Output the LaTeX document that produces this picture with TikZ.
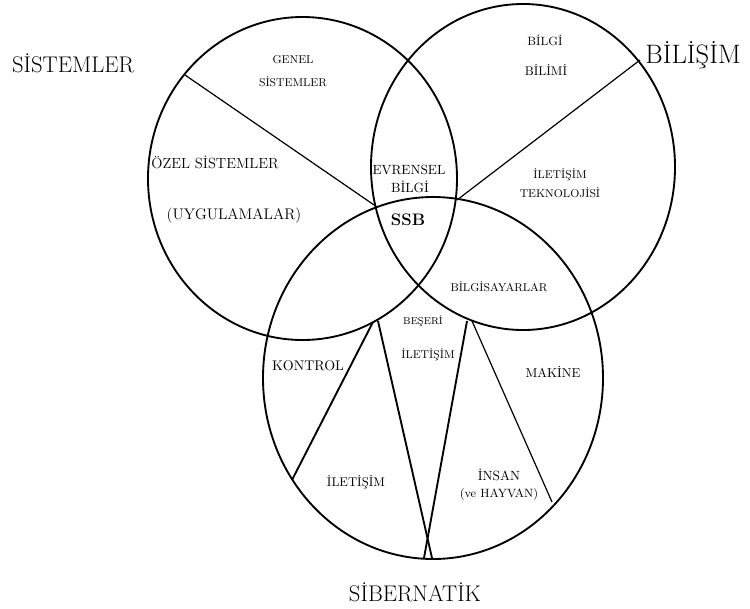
\documentclass[tikz,border=0pt]{standalone}
\usepackage{fontspec}
\usepackage{tikz}
\usetikzlibrary{positioning,calc}
\tikzset{ring/.style={line width=1.4pt}}

\begin{document}
\begin{tikzpicture}[x=0.75pt, y=-0.75pt,
        big/.style={font=\fontsize{17}{20}\selectfont},
        mid/.style={font=\fontsize{10.5}{12}\selectfont},
        tiny/.style={font=\fontsize{8.5}{10}\selectfont},
        cut/.style={line width=0.9pt},
        thick cut/.style={line width=1.4pt}]
        \useasboundingbox (0,0) rectangle (750,608);

        % the three sets
        \draw[ring] (302.5,178.5) ellipse [x radius=154.5, y radius=161.5];
        \draw[ring] (523,167) ellipse [x radius=152, y radius=163];
        \draw[ring] (433,378) ellipse [x radius=170, y radius=181];

        % end points of the cuts
        \coordinate (S1) at (185,75);
        \coordinate (S2) at (377,207);
        \coordinate (B1) at (640,60);
        \coordinate (B2) at (457,200);
        \coordinate (K1) at (373,322);
        \coordinate (K2) at (292,480);
        \coordinate (K3) at (378,321);
        \coordinate (K4) at (432,558);
        \coordinate (M1) at (467,321);
        \coordinate (M2) at (424,558);
        \coordinate (M3) at (472,321);
        \coordinate (M4) at (552,502);

        \draw[cut] (S1) -- (S2);
        \draw[cut] (B1) -- (B2);
        \draw[thick cut] (K1) -- (K2);
        \draw[thick cut] (K3) -- (K4);
        \draw[thick cut] (M1) -- (M2);
        \draw[cut] (M3) -- (M4);

        % set names
        \node[big] (SIS) at (73,63) {SİSTEMLER};
        \node[big, font=\fontsize{20}{24}\selectfont] (BIL) at (693,55) {BİLİŞİM};
        \node[big] (SIB) at (415,592) {SİBERNATİK};

        % regions
        \node[tiny] (GEN) at (293,60) {GENEL};
        \node[tiny] (GSIS) at (293,82) {SİSTEMLER};
        \node[tiny, font=\fontsize{9}{10}\selectfont] (BGI) at (545,40) {BİLGİ};
        \node[tiny, font=\fontsize{9.5}{10}\selectfont] (BMI) at (546,70) {BİLİMİ};
        \node[mid, font=\fontsize{11}{12}\selectfont] (OZEL) at (215,162) {ÖZEL SİSTEMLER};
        \node[mid, font=\fontsize{11.5}{12}\selectfont] (UYG) at (234,216) {(UYGULAMALAR)};
        \node[mid, font=\fontsize{10}{12}\selectfont] (EVR) at (409,170) {EVRENSEL};
        \node[mid, font=\fontsize{10}{12}\selectfont] (EBG) at (410,187) {BİLGİ};
        \node[font=\fontsize{12.5}{14}\bfseries] (SSB) at (408,220) {SSB};
        \node[tiny] (ILT) at (560,175) {İLETİŞİM};
        \node[tiny] (TEK) at (560,193) {TEKNOLOJİSİ};
        \node[tiny] (BSY) at (499,287) {BİLGİSAYARLAR};
        \node[tiny, font=\fontsize{7.5}{9}\selectfont] (BES) at (423,321) {BEŞERİ};
        \node[tiny] (BIL2) at (428,355) {İLETİŞİM};
        \node[mid] (KON) at (308,366) {KONTROL};
        \node[mid, font=\fontsize{9.7}{12}\selectfont] (MAK) at (553,372) {MAKİNE};
        \node[mid, font=\fontsize{9.5}{12}\selectfont] (ILT3) at (356,482) {İLETİŞİM};
        \node[mid, font=\fontsize{10}{12}\selectfont] (INS) at (499,475) {İNSAN};
        \node[tiny, font=\fontsize{9}{10}\selectfont] (HAY) at (499,494) {(ve HAYVAN)};
\end{tikzpicture}
\end{document}
